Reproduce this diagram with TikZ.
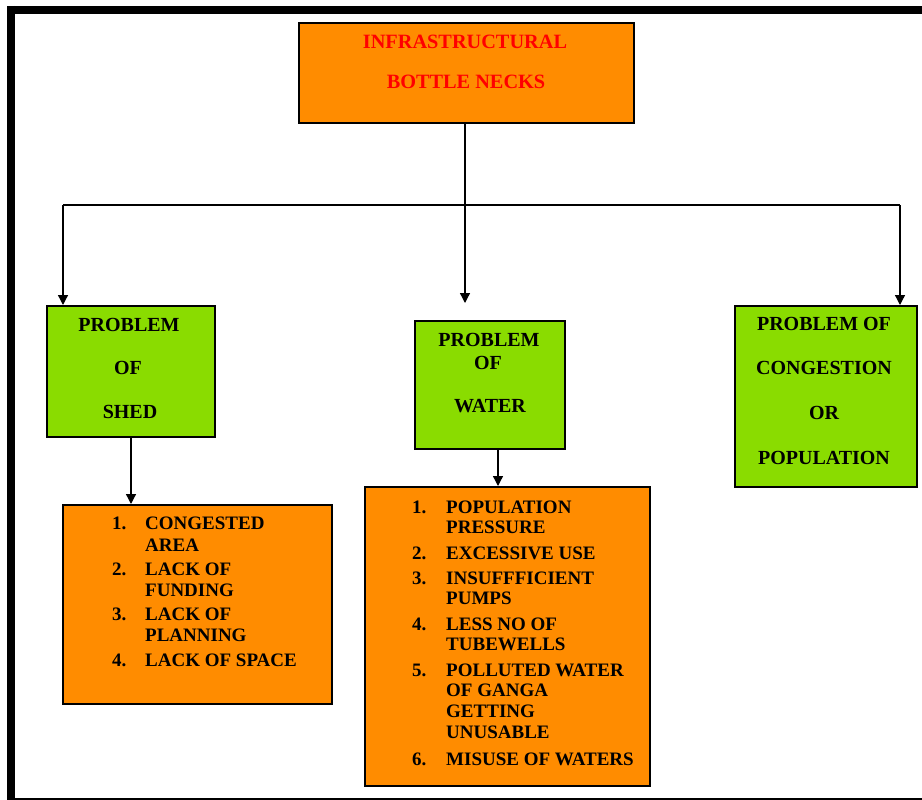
\documentclass[tikz,border=0pt]{standalone}
\usepackage{fontspec}
\setmainfont{Liberation Serif}
\usetikzlibrary{arrows.meta}
\definecolor{boxorange}{HTML}{FF8C00}
\definecolor{boxgreen}{HTML}{8ADC00}
\tikzset{
  box/.style={draw=black, line width=2pt, rectangle, inner sep=0pt, anchor=north west},
  obox/.style={box, fill=boxorange},
  gbox/.style={box, fill=boxgreen},
  ttl/.style={font=\bfseries\fontsize{20.3}{24}\selectfont, text=red, inner sep=0pt, text height=13.4pt, text depth=0pt},
  gtxt/.style={font=\bfseries\fontsize{20}{24}\selectfont, inner sep=0pt, text height=13.2pt, text depth=0pt},
  ltxt/.style={font=\bfseries\fontsize{19}{23}\selectfont, inner sep=0pt, text height=12.6pt, text depth=0pt, anchor=west},
  conn/.style={draw=black, line width=1.3pt, -{Triangle[width=10pt,length=10pt]}},
  plain/.style={draw=black, line width=1.3pt},
  frame/.style={draw=black, line width=8pt}
}
\begin{document}
\begin{tikzpicture}[x=1pt, y=-1pt]
\useasboundingbox (0,0) rectangle (922,800);
% frame
\draw[frame] (7,10) -- (922,10);
\draw[frame] (11,6) -- (11,800);
\draw[draw=black, line width=2pt] (7,799) -- (922,799);
% boxes
\node[obox, minimum width=335pt, minimum height=100pt] (top) at (298,22) {};
\node[gbox, minimum width=168pt, minimum height=131pt] (shed) at (46,305) {};
\node[gbox, minimum width=150pt, minimum height=128pt] (water) at (414,320) {};
\node[gbox, minimum width=182pt, minimum height=181pt] (cong) at (734,305) {};
\node[obox, minimum width=269pt, minimum height=199pt] (shedlist) at (62,504) {};
\node[obox, minimum width=285pt, minimum height=299pt] (waterlist) at (364,486) {};
% title
\node[ttl] (t1) at (465,42) {INFRASTRUCTURAL};
\node[ttl] (t2) at (466,82) {BOTTLE NECKS};
% green texts
\node[gtxt] (s1) at (129,325) {PROBLEM};
\node[gtxt] (s2) at (128,368) {OF};
\node[gtxt] (s3) at (130,412) {SHED};
\node[gtxt] (w1) at (489,340) {PROBLEM};
\node[gtxt] (w2) at (488,363) {OF};
\node[gtxt] (w3) at (490,406) {WATER};
\node[gtxt] (c1) at (824,324) {PROBLEM OF};
\node[gtxt] (c2) at (824,368) {CONGESTION};
\node[gtxt] (c3) at (824,413) {OR};
\node[gtxt] (c4) at (824,458) {POPULATION};
% shed list
\foreach \yy/\tt [count=\i] in {523/CONGESTED, 545/AREA, 569/LACK OF, 590/FUNDING, 614/LACK OF, 635/PLANNING, 660/LACK OF SPACE}
  \node[ltxt] (sl\i) at (145,\yy) {\tt};
\foreach \yy/\nn [count=\i] in {523/1., 569/2., 614/3., 660/4.}
  \node[ltxt] (sn\i) at (112,\yy) {\nn};
% water list
\foreach \yy/\tt [count=\i] in {507/POPULATION, 527/PRESSURE, 553/EXCESSIVE USE, 578/INSUFFFICIENT, 598/PUMPS, 624/LESS NO OF, 644/TUBEWELLS, 670/POLLUTED WATER, 690/OF GANGA, 711/GETTING, 732/UNUSABLE, 759/MISUSE OF WATERS}
  \node[ltxt] (wl\i) at (446,\yy) {\tt};
\foreach \yy/\nn [count=\i] in {507/1., 553/2., 578/3., 624/4., 670/5., 759/6.}
  \node[ltxt] (wn\i) at (412,\yy) {\nn};
% connectors
\coordinate (jl) at (63,205);
\coordinate (jr) at (900,205);
\coordinate (jm) at (465,205);
\coordinate (wtip) at (465,303);
\draw[plain] (jl) -- (jr);
\draw[conn] (top.south -| jm) -- (wtip);
\draw[conn] (jl) -- (jl |- shed.north);
\draw[conn] (jr) -- (jr |- cong.north);
\draw[conn] (shed.south) -- (shed.south |- shedlist.north);
\draw[conn] ([xshift=8pt]water.south) -- ([xshift=8pt]water.south |- waterlist.north);
\end{tikzpicture}
\end{document}
